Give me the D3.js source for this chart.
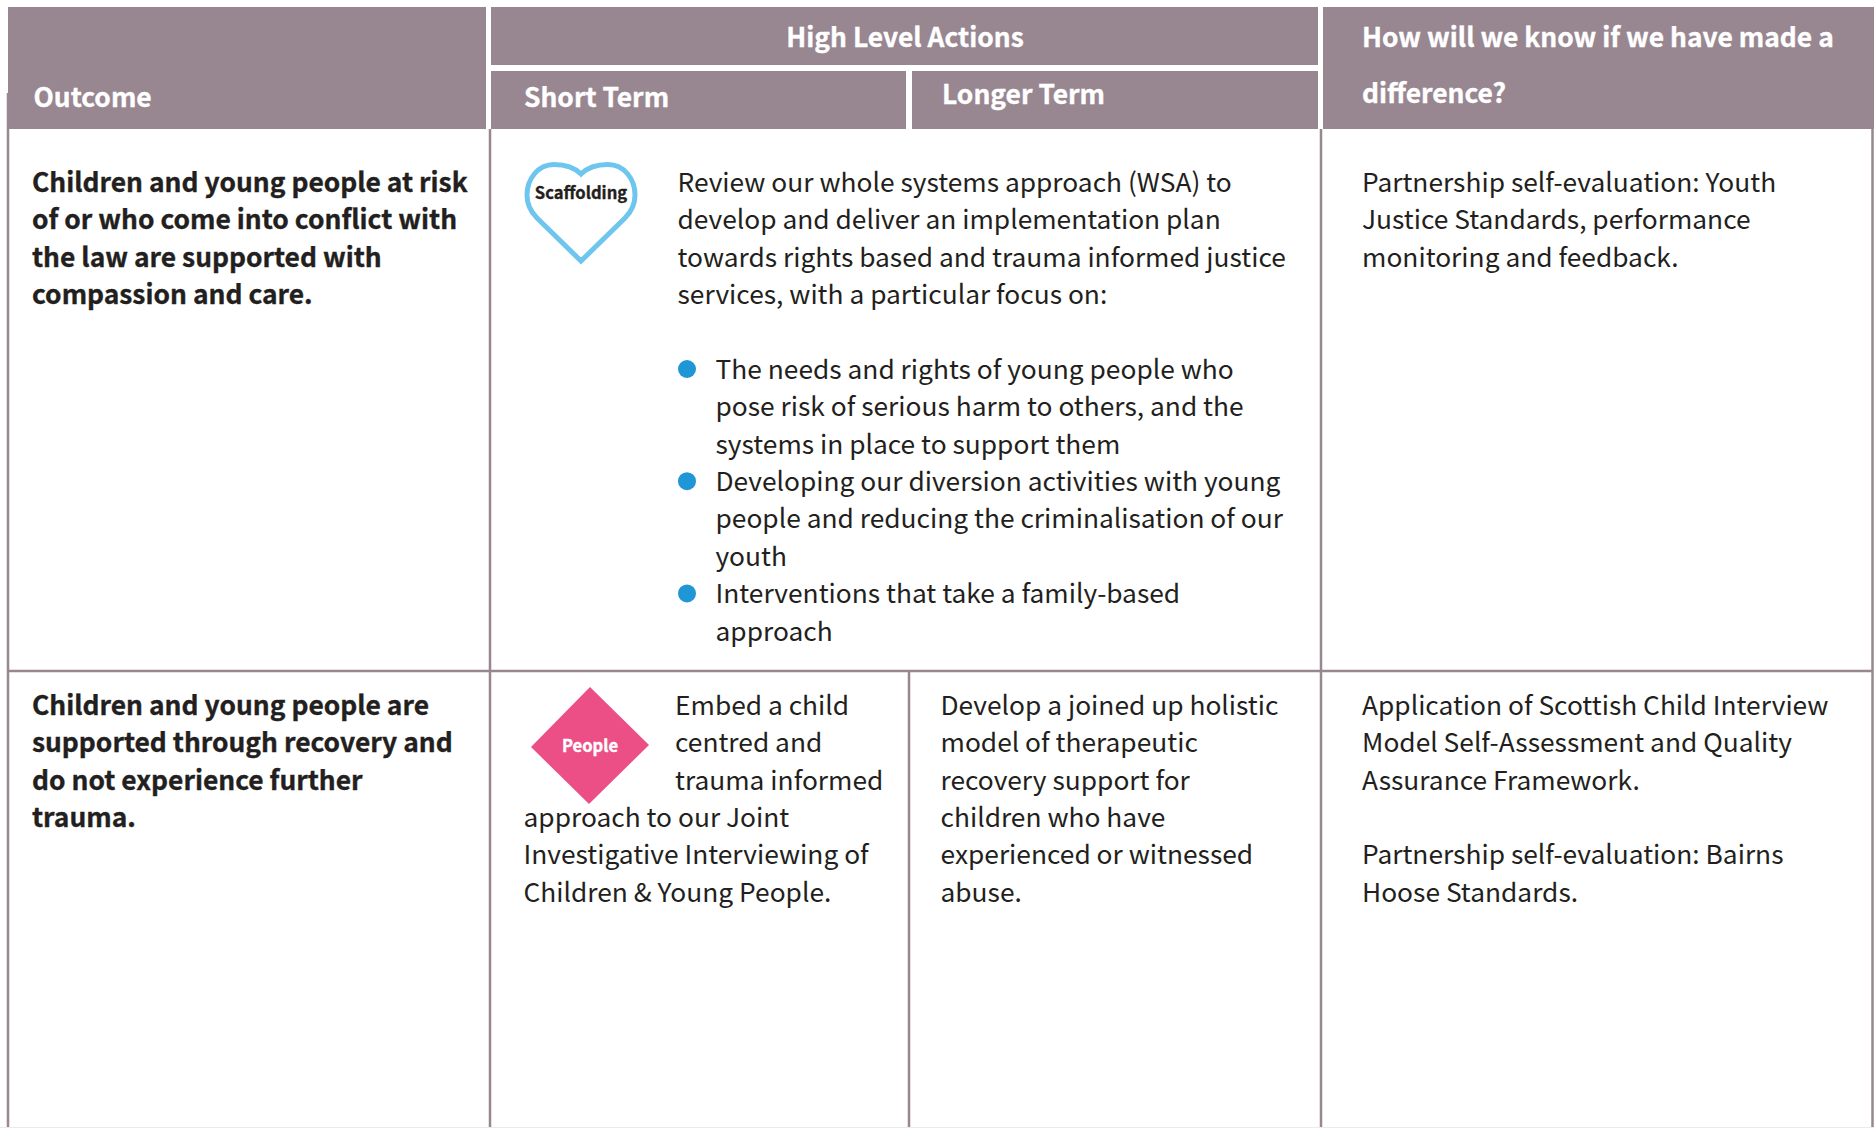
<!DOCTYPE html>
<html lang="en">
<head>
  <meta charset="UTF-8">
  <title>Outcomes table</title>
  <script src="https://d3js.org/d3.v7.min.js"></script>
  <style>
    body { margin: 0; padding: 0; background-color: #fff; }
    svg { display: block; }
    text { font-family: "Noto Sans CJK SC", "Noto Sans", sans-serif; font-size: 26.33px; fill: #231f20; }
    .head { fill: #fff; stroke: #fff; stroke-width: 0.35px; font-weight: 700; font-size: 26.4px; }
    .bold { stroke: #231f20; stroke-width: 0.35px; font-weight: 700; font-size: 26.4px; }
  </style>
</head>
<body>
  <div id="table"></div>
  <script>
    // Table content
    const headers = ['Outcome', 'High Level Actions', 'Short Term', 'Longer Term', 'How will we know if we have made a', 'difference?'];
    const outcome1 = ['Children and young people at risk', 'of or who come into conflict with', 'the law are supported with', 'compassion and care.'];
    const outcome2 = ['Children and young people are', 'supported through recovery and', 'do not experience further', 'trauma.'];
    const action1 = ['Review our whole systems approach (WSA) to', 'develop and deliver an implementation plan', 'towards rights based and trauma informed justice', 'services, with a particular focus on:'];
    const bullets1 = [
      ['The needs and rights of young people who', 'pose risk of serious harm to others, and the', 'systems in place to support them'],
      ['Developing our diversion activities with young', 'people and reducing the criminalisation of our', 'youth'],
      ['Interventions that take a family-based', 'approach']
    ];
    const shortWrapped = ['Embed a child', 'centred and', 'trauma informed'];
    const shortFull = ['approach to our Joint', 'Investigative Interviewing of', 'Children & Young People.'];
    const longer2 = ['Develop a joined up holistic', 'model of therapeutic', 'recovery support for', 'children who have', 'experienced or witnessed', 'abuse.'];
    const measure1 = ['Partnership self-evaluation: Youth', 'Justice Standards, performance', 'monitoring and feedback.'];
    const measure2 = ['Application of Scottish Child Interview', 'Model Self-Assessment and Quality', 'Assurance Framework.', '', 'Partnership self-evaluation: Bairns', 'Hoose Standards.'];

    const width = 1874;
    const height = 1128;
    const border = '#988691';

    const svg = d3.select('#table').append('svg')
      .attr('width', width)
      .attr('height', height);

    // x positions of columns and text starts
    const x = d3.scaleOrdinal()
      .domain(['left', 'actions', 'split', 'measure', 'right'])
      .range([8, 490, 909, 1321, 1872.5]);
    const textX = d3.scaleOrdinal()
      .domain(['outcome', 'short', 'longer', 'measure', 'body', 'bullet', 'wrap', 'dot'])
      .range([32, 523.5, 940.5, 1362, 677.5, 715.5, 675, 687]);

    // baselines sit on a regular line grid inside each row
    const lineY = d3.scaleLinear().domain([0, 1]).range([191.7, 229.1]);
    const row2Y = d3.scaleLinear().domain([0, 1]).range([714.8, 752.2]);

    // Header blocks
    const blocks = [
      { x0: 8, x1: 486, y0: 7, y1: 129 },
      { x0: 491, x1: 1318, y0: 7, y1: 65 },
      { x0: 491, x1: 906, y0: 71, y1: 129 },
      { x0: 912, x1: 1318, y0: 71, y1: 129 },
      { x0: 1323, x1: 1874, y0: 7, y1: 129 }
    ];
    svg.append('g').selectAll('rect').data(blocks).join('rect')
      .attr('x', d => d.x0).attr('y', d => d.y0)
      .attr('width', d => d.x1 - d.x0).attr('height', d => d.y1 - d.y0)
      .attr('fill', border);

    // Grid lines
    const vLines = [
      { key: 'left', y0: 93 }, { key: 'actions', y0: 129 },
      { key: 'split', y0: 671 }, { key: 'measure', y0: 129 }, { key: 'right', y0: 129 }
    ];
    svg.append('g').selectAll('line').data(vLines).join('line')
      .attr('x1', d => x(d.key)).attr('x2', d => x(d.key))
      .attr('y1', d => d.y0).attr('y2', height)
      .attr('stroke', border).attr('stroke-width', 2.5);
    svg.append('line')
      .attr('x1', x('left')).attr('x2', x('right')).attr('y1', 671).attr('y2', 671)
      .attr('stroke', border).attr('stroke-width', 2.5);
    svg.append('line')
      .attr('x1', 0).attr('x2', width).attr('y1', 1127.5).attr('y2', 1127.5)
      .attr('stroke', '#efe9ee').attr('stroke-width', 1);

    // Header text
    const headPos = [
      { x: 33.5, y: 107 }, { x: 905, y: 47, anchor: 'middle' }, { x: 524, y: 107 },
      { x: 942, y: 104 }, { x: 1362, y: 47 }, { x: 1362, y: 103 }
    ];
    svg.append('g').selectAll('text').data(headers).join('text')
      .attr('class', 'head')
      .attr('x', (d, i) => headPos[i].x).attr('y', (d, i) => headPos[i].y)
      .attr('text-anchor', (d, i) => headPos[i].anchor || 'start')
      .text(d => d);

    function block(lines, xKey, y, first, cls) {
      svg.append('g').selectAll('text').data(lines).join('text')
        .attr('class', cls || null)
        .attr('x', textX(xKey))
        .attr('y', (d, i) => y(first + i))
        .text(d => d);
    }

    // Row 1
    block(outcome1, 'outcome', lineY, 0, 'bold');
    block(action1, 'body', lineY, 0);
    block(measure1, 'measure', lineY, 0);
    let n = 5;
    const dotLines = [];
    bullets1.forEach(b => {
      dotLines.push(n);
      block(b, 'bullet', lineY, n);
      n += b.length;
    });
    svg.append('g').selectAll('circle').data(dotLines).join('circle')
      .attr('cx', textX('dot')).attr('cy', d => lineY(d) - 9.7).attr('r', 9)
      .attr('fill', '#1f96d6');

    // Row 2
    block(outcome2, 'outcome', row2Y, 0, 'bold');
    block(shortWrapped, 'wrap', row2Y, 0);
    block(shortFull, 'short', row2Y, 3);
    block(longer2, 'longer', row2Y, 0);
    block(measure2, 'measure', row2Y, 0);

    // Scaffolding heart
    const heart = svg.append('g').attr('transform', 'translate(581,0)');
    heart.append('path')
      .attr('d', 'M0,174 C-6,168 -16,164.5 -27,164.5 C-43,164.5 -54,179 -54,195 C-54,205 -50,212 -44,218 L0,261 L44,218 C50,212 54,205 54,195 C54,179 43,164.5 27,164.5 C16,164.5 6,168 0,174 Z')
      .attr('fill', '#fff').attr('stroke', '#6ec6ee').attr('stroke-width', 5).attr('stroke-linejoin', 'miter');
    heart.append('text').attr('class', 'bold').attr('text-anchor', 'middle').attr('y', 199)
      .style('font-size', '16.6px').text('Scaffolding');

    // People diamond
    const diamond = svg.append('g').attr('transform', 'translate(590,745)');
    diamond.append('path')
      .attr('d', 'M0,-58 L59,0 L-1,59 L-59,2 Z')
      .attr('fill', '#ec4f85');
    diamond.append('text').attr('class', 'bold').attr('text-anchor', 'middle').attr('y', 7)
      .style('font-size', '16.6px').style('fill', '#fff').style('stroke', '#fff').text('People');
  </script>
</body>
</html>
